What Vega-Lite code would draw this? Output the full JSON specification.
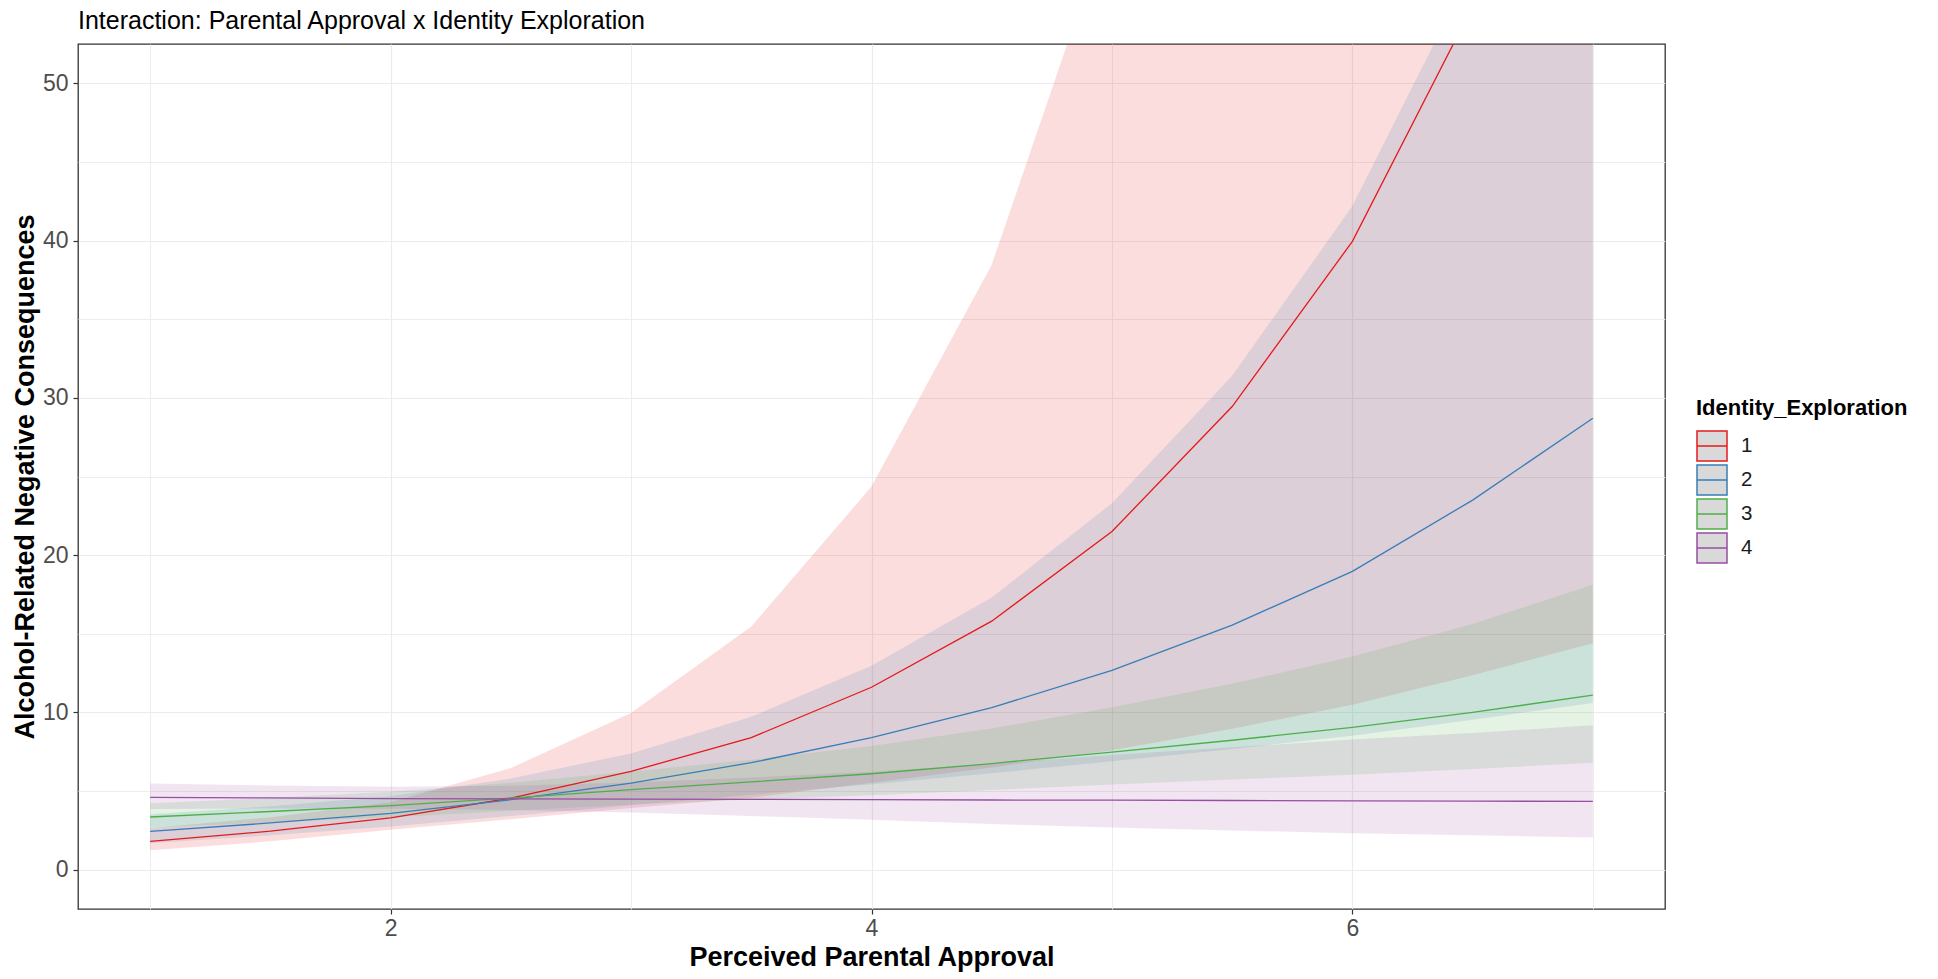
{
  "$schema": "https://vega.github.io/schema/vega-lite/v6.json",
  "width": 1587,
  "height": 865,
  "autosize": "none",
  "padding": {"left": 78, "top": 44, "right": 273, "bottom": 70},
  "background": "white",
  "title": {
    "text": "Interaction: Parental Approval x Identity Exploration",
    "anchor": "start",
    "frame": "group",
    "offset": -10,
    "baseline": "alphabetic",
    "font": "Liberation Sans",
    "fontSize": 25,
    "fontWeight": "normal",
    "color": "#000000"
  },
  "config": {
    "view": {"stroke": "#333333", "strokeWidth": 1.3},
    "font": "Liberation Sans"
  },
  "data": {
    "values": [
      {"x": 1, "g": "1", "fit": 1.80, "lo": 1.23, "hi": 2.63},
      {"x": 1.5, "g": "1", "fit": 2.45, "lo": 1.80, "hi": 3.34},
      {"x": 2, "g": "1", "fit": 3.30, "lo": 2.54, "hi": 4.28},
      {"x": 2.5, "g": "1", "fit": 4.55, "lo": 3.21, "hi": 6.46},
      {"x": 3, "g": "1", "fit": 6.25, "lo": 3.92, "hi": 9.96},
      {"x": 3.5, "g": "1", "fit": 8.40, "lo": 4.57, "hi": 15.46},
      {"x": 4, "g": "1", "fit": 11.60, "lo": 5.52, "hi": 24.36},
      {"x": 4.5, "g": "1", "fit": 15.80, "lo": 6.49, "hi": 38.47},
      {"x": 5, "g": "1", "fit": 21.50, "lo": 7.60, "hi": 60.8},
      {"x": 5.5, "g": "1", "fit": 29.45, "lo": 8.96, "hi": 96.8},
      {"x": 6, "g": "1", "fit": 39.95, "lo": 10.49, "hi": 152},
      {"x": 6.5, "g": "1", "fit": 54.90, "lo": 12.37, "hi": 243.6},
      {"x": 7, "g": "1", "fit": 75.0, "lo": 14.4, "hi": 390.5},
      {"x": 1, "g": "2", "fit": 2.43, "lo": 1.68, "hi": 3.52},
      {"x": 1.5, "g": "2", "fit": 2.97, "lo": 2.19, "hi": 4.03},
      {"x": 2, "g": "2", "fit": 3.58, "lo": 2.74, "hi": 4.67},
      {"x": 2.5, "g": "2", "fit": 4.45, "lo": 3.42, "hi": 5.79},
      {"x": 3, "g": "2", "fit": 5.50, "lo": 4.09, "hi": 7.39},
      {"x": 3.5, "g": "2", "fit": 6.80, "lo": 4.76, "hi": 9.72},
      {"x": 4, "g": "2", "fit": 8.40, "lo": 5.44, "hi": 12.96},
      {"x": 4.5, "g": "2", "fit": 10.30, "lo": 6.13, "hi": 17.30},
      {"x": 5, "g": "2", "fit": 12.67, "lo": 6.89, "hi": 23.30},
      {"x": 5.5, "g": "2", "fit": 15.55, "lo": 7.67, "hi": 31.40},
      {"x": 6, "g": "2", "fit": 18.97, "lo": 8.52, "hi": 42.20},
      {"x": 6.5, "g": "2", "fit": 23.50, "lo": 9.53, "hi": 57.4},
      {"x": 7, "g": "2", "fit": 28.70, "lo": 10.60, "hi": 77.7},
      {"x": 1, "g": "3", "fit": 3.35, "lo": 2.66, "hi": 4.22},
      {"x": 1.5, "g": "3", "fit": 3.70, "lo": 3.01, "hi": 4.55},
      {"x": 2, "g": "3", "fit": 4.07, "lo": 3.34, "hi": 4.95},
      {"x": 2.5, "g": "3", "fit": 4.55, "lo": 3.74, "hi": 5.53},
      {"x": 3, "g": "3", "fit": 5.09, "lo": 4.15, "hi": 6.25},
      {"x": 3.5, "g": "3", "fit": 5.58, "lo": 4.46, "hi": 6.99},
      {"x": 4, "g": "3", "fit": 6.10, "lo": 4.74, "hi": 7.86},
      {"x": 4.5, "g": "3", "fit": 6.75, "lo": 5.07, "hi": 8.98},
      {"x": 5, "g": "3", "fit": 7.48, "lo": 5.42, "hi": 10.33},
      {"x": 5.5, "g": "3", "fit": 8.23, "lo": 5.73, "hi": 11.82},
      {"x": 6, "g": "3", "fit": 9.05, "lo": 6.04, "hi": 13.56},
      {"x": 6.5, "g": "3", "fit": 10.00, "lo": 6.40, "hi": 15.62},
      {"x": 7, "g": "3", "fit": 11.10, "lo": 6.80, "hi": 18.12},
      {"x": 1, "g": "4", "fit": 4.60, "lo": 3.86, "hi": 5.48},
      {"x": 1.5, "g": "4", "fit": 4.56, "lo": 3.89, "hi": 5.35},
      {"x": 2, "g": "4", "fit": 4.52, "lo": 3.87, "hi": 5.28},
      {"x": 2.5, "g": "4", "fit": 4.50, "lo": 3.80, "hi": 5.33},
      {"x": 3, "g": "4", "fit": 4.49, "lo": 3.64, "hi": 5.54},
      {"x": 3.5, "g": "4", "fit": 4.47, "lo": 3.41, "hi": 5.86},
      {"x": 4, "g": "4", "fit": 4.45, "lo": 3.18, "hi": 6.23},
      {"x": 4.5, "g": "4", "fit": 4.43, "lo": 2.91, "hi": 6.74},
      {"x": 5, "g": "4", "fit": 4.42, "lo": 2.68, "hi": 7.29},
      {"x": 5.5, "g": "4", "fit": 4.40, "lo": 2.49, "hi": 7.78},
      {"x": 6, "g": "4", "fit": 4.38, "lo": 2.32, "hi": 8.27},
      {"x": 6.5, "g": "4", "fit": 4.36, "lo": 2.19, "hi": 8.69},
      {"x": 7, "g": "4", "fit": 4.34, "lo": 2.05, "hi": 9.19}
    ]
  },
  "encoding": {
    "x": {
      "field": "x",
      "type": "quantitative",
      "scale": {"domain": [0.7, 7.3], "nice": false, "zero": false},
      "axis": {
        "values": [1, 2, 3, 4, 5, 6, 7],
        "labelExpr": "datum.value % 2 === 0 ? datum.label : ''",
        "grid": true,
        "gridColor": "#EBEBEB",
        "gridWidth": {"condition": {"test": "datum.value % 2 === 0", "value": 1.2}, "value": 0.9},
        "domain": false,
        "ticks": true,
        "tickSize": 5,
        "tickWidth": 1.2,
        "tickColor": {"condition": {"test": "datum.value % 2 === 0", "value": "#333333"}, "value": "transparent"},
        "labelFont": "Liberation Sans",
        "labelFontSize": 23,
        "labelColor": "#4D4D4D",
        "labelPadding": 3,
        "title": "Perceived Parental Approval",
        "titleFont": "Liberation Sans",
        "titleFontSize": 27,
        "titleFontWeight": "bold",
        "titleColor": "#000000",
        "titlePadding": 4
      }
    }
  },
  "layer": [
    {
      "mark": {"type": "area", "clip": true, "fillOpacity": 0.15, "interpolate": "linear"},
      "encoding": {
        "y": {
          "field": "lo",
          "type": "quantitative",
          "scale": {"domain": [-2.5, 52.5], "nice": false, "zero": false},
          "axis": {
            "values": [0, 5, 10, 15, 20, 25, 30, 35, 40, 45, 50],
            "labelExpr": "datum.value % 10 === 0 ? datum.label : ''",
            "grid": true,
            "gridColor": "#EBEBEB",
            "gridWidth": {"condition": {"test": "datum.value % 10 === 0", "value": 1.2}, "value": 0.9},
            "domain": false,
            "tickSize": 5,
            "tickWidth": 1.2,
            "tickColor": {"condition": {"test": "datum.value % 10 === 0", "value": "#333333"}, "value": "transparent"},
            "labelFont": "Liberation Sans",
            "labelFontSize": 23,
            "labelColor": "#4D4D4D",
            "labelPadding": 5,
            "title": "Alcohol-Related Negative Consequences",
            "titleFont": "Liberation Sans",
            "titleFontSize": 27,
            "titleFontWeight": "bold",
            "titleColor": "#000000",
            "titlePadding": 3
          }
        },
        "y2": {"field": "hi"},
        "fill": {
          "field": "g",
          "type": "nominal",
          "scale": {"domain": ["1", "2", "3", "4"], "range": ["#E41A1C", "#377EB8", "#4DAF4A", "#984EA3"]},
          "legend": null
        }
      }
    },
    {
      "mark": {"type": "line", "clip": true, "strokeWidth": 1.3},
      "encoding": {
        "y": {"field": "fit", "type": "quantitative"},
        "color": {
          "field": "g",
          "type": "nominal",
          "scale": {"range": ["#E41A1C", "#377EB8", "#4DAF4A", "#984EA3"]},
          "legend": {
            "title": "Identity_Exploration",
            "orient": "none",
            "legendX": 1618,
            "legendY": 354,
            "padding": 0,
            "titleFont": "Liberation Sans",
            "titleFontSize": 22,
            "titleFontWeight": "bold",
            "titleColor": "#000000",
            "titlePadding": 10,
            "titleLimit": 400,
            "labelFont": "Liberation Sans",
            "labelFontSize": 20.5,
            "labelColor": "#1A1A1A",
            "labelOffset": 13,
            "symbolType": "M-1,-1H1V1H-1Z M-1,0H1",
            "symbolSize": 900,
            "symbolStrokeWidth": 1.5,
            "symbolFillColor": "#D9D9D9",
            "rowPadding": -4.6,
            "encode": {
              "symbols": {
                "update": {
                  "fill": {"value": "#D9D9D9"},
                  "fillOpacity": {"value": 1},
                  "strokeWidth": {"value": 1.5},
                  "opacity": {"value": 1}
                }
              }
            }
          }
        }
      }
    }
  ]
}
